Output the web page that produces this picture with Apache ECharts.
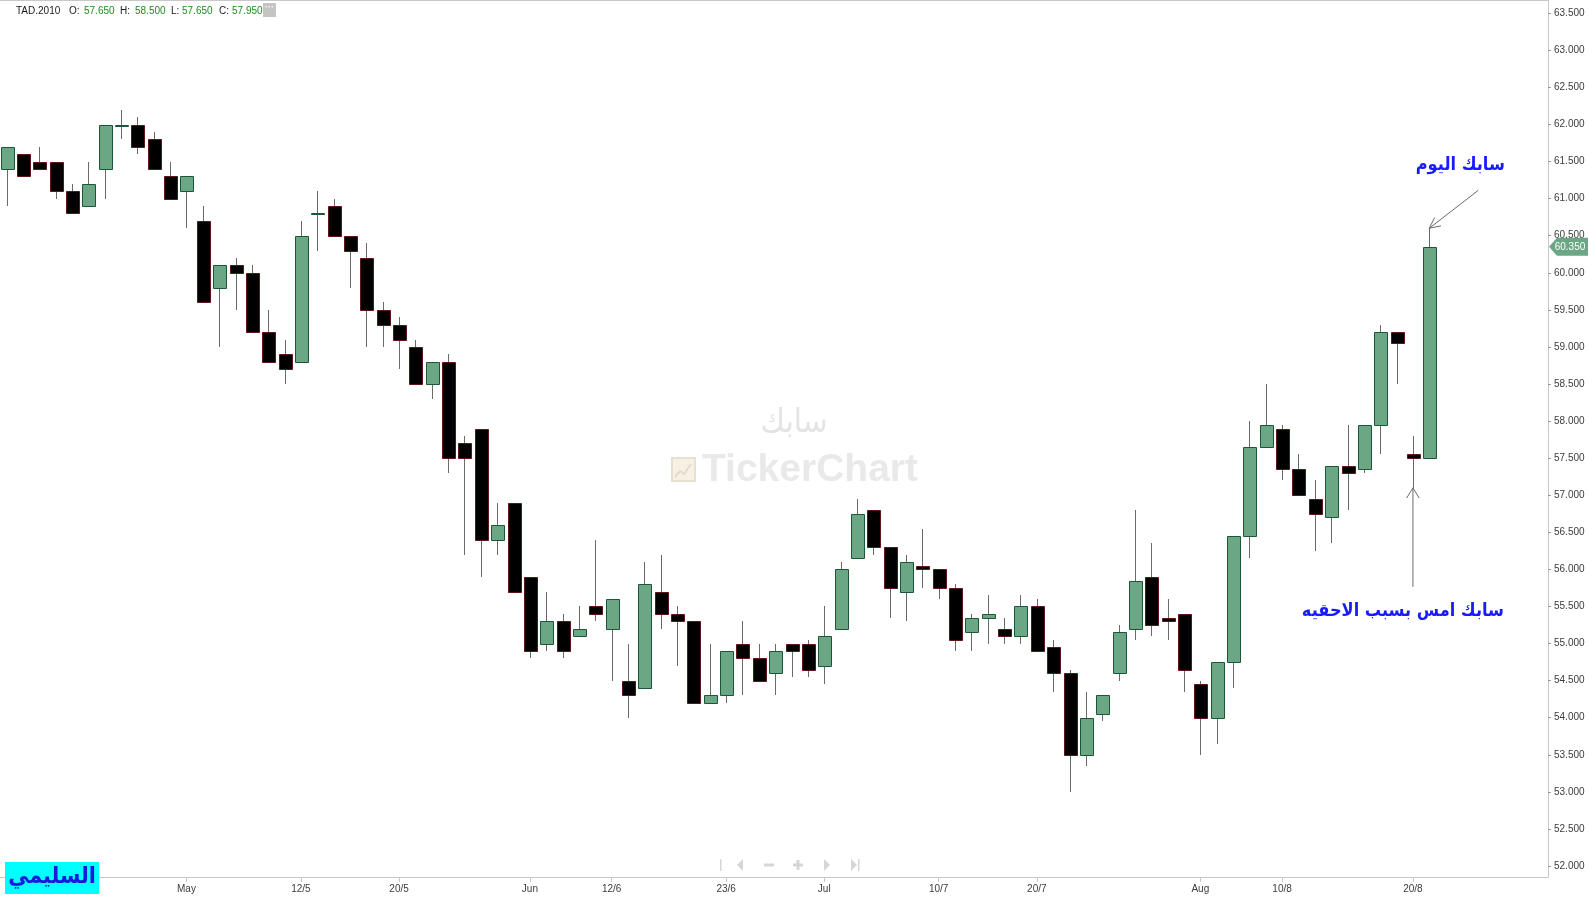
<!DOCTYPE html>
<html><head><meta charset="utf-8">
<script src="https://cdn.jsdelivr.net/npm/echarts@6/dist/echarts.min.js"></script>
<style>html,body{margin:0;padding:0;background:#fff;}#c{width:1589px;height:899px;}</style>
</head><body><div id="c"></div>
<script>
// ---------- DATA ----------
const dates = ['2025-04-16','2025-04-17','2025-04-20','2025-04-21','2025-04-22','2025-04-23','2025-04-24','2025-04-27','2025-04-28','2025-04-29','2025-04-30',
'2025-05-01','2025-05-04','2025-05-05','2025-05-06','2025-05-07','2025-05-08','2025-05-11','2025-05-12','2025-05-13','2025-05-14','2025-05-15',
'2025-05-18','2025-05-19','2025-05-20','2025-05-21','2025-05-22','2025-05-25','2025-05-26','2025-05-27','2025-05-28','2025-05-29',
'2025-06-01','2025-06-02','2025-06-03','2025-06-04','2025-06-11','2025-06-12','2025-06-15','2025-06-16','2025-06-17','2025-06-18','2025-06-19',
'2025-06-22','2025-06-23','2025-06-24','2025-06-25','2025-06-26','2025-06-29','2025-06-30',
'2025-07-01','2025-07-02','2025-07-03','2025-07-06','2025-07-07','2025-07-08','2025-07-09','2025-07-10','2025-07-13','2025-07-14','2025-07-15',
'2025-07-16','2025-07-17','2025-07-20','2025-07-21','2025-07-22','2025-07-23','2025-07-24','2025-07-27','2025-07-28','2025-07-29','2025-07-30','2025-07-31',
'2025-08-03','2025-08-04','2025-08-05','2025-08-06','2025-08-07','2025-08-10','2025-08-11','2025-08-12','2025-08-13','2025-08-14','2025-08-17',
'2025-08-18','2025-08-19','2025-08-20','2025-08-21'];
const opens = [61.40,61.60,61.50,61.50,61.10,60.90,61.40,62.00,62.00,61.80,61.30,
61.10,60.70,59.80,60.10,60.00,59.20,58.90,58.80,60.80,60.90,60.50,
60.20,59.50,59.30,59.00,58.50,58.80,57.70,57.90,56.40,56.90,
55.90,55.00,55.30,55.10,55.50,55.20,54.50,54.40,55.70,55.40,55.30,
54.20,54.30,55.00,54.80,54.60,55.00,55.00,
54.70,55.20,56.15,56.80,56.30,55.70,56.05,56.00,55.75,55.15,55.35,
55.20,55.10,55.50,54.95,54.60,53.50,54.05,54.60,55.20,55.90,55.35,55.40,
54.45,54.00,54.75,56.45,57.65,57.90,57.35,56.95,56.70,57.40,57.35,
57.95,59.20,57.55,57.50];
const closes = [61.70,61.30,61.40,61.10,60.80,61.20,62.00,62.00,61.70,61.40,61.00,
61.30,59.60,60.10,60.00,59.20,58.80,58.70,60.50,60.80,60.50,60.30,
59.50,59.30,59.10,58.50,58.80,57.50,57.50,56.40,56.60,55.70,
54.90,55.30,54.90,55.20,55.40,55.60,54.30,55.80,55.40,55.30,54.20,
54.30,54.90,54.80,54.50,54.90,54.90,54.65,
55.10,56.00,56.75,56.30,55.75,56.10,56.00,55.75,55.05,55.35,55.40,
55.10,55.50,54.90,54.60,53.50,54.00,54.30,55.15,55.85,55.25,55.30,54.65,
54.00,54.75,56.45,57.65,57.95,57.35,57.00,56.75,57.40,57.30,57.95,
59.20,59.05,57.50,60.35];
const lows = [60.90,61.30,61.40,61.00,60.80,60.90,61.00,61.80,61.60,61.40,61.00,
60.60,59.60,59.00,59.50,59.20,58.80,58.50,58.80,60.30,60.50,59.80,
59.00,59.00,58.70,58.50,58.30,57.30,56.20,55.90,56.20,55.70,
54.80,54.90,54.80,55.10,55.30,54.50,54.00,54.40,55.20,54.70,54.20,
54.20,54.20,54.30,54.50,54.30,54.55,54.55,
54.45,55.20,56.15,56.20,55.35,55.30,55.75,55.60,54.90,54.90,55.00,
55.00,55.00,54.90,54.35,53.00,53.35,53.95,54.50,55.05,55.10,55.05,54.35,
53.50,53.65,54.40,56.15,57.65,57.20,57.00,56.25,56.35,56.80,57.30,
57.55,58.50,57.10,57.50];
const highs = [61.70,61.60,61.70,61.50,61.20,61.50,62.00,62.20,62.10,61.90,61.50,
61.30,60.90,60.10,60.20,60.10,59.50,59.10,60.70,61.10,61.00,60.50,
60.40,59.60,59.40,59.10,58.80,58.90,57.80,57.90,56.90,56.90,
55.90,55.70,55.40,55.50,56.40,55.60,55.00,56.10,56.20,55.50,55.30,
55.00,54.90,55.30,55.00,55.00,55.00,55.05,
55.50,56.10,56.95,56.80,56.30,56.20,56.55,56.00,55.80,55.40,55.65,
55.35,55.65,55.60,55.05,54.65,54.35,54.30,55.25,56.80,56.35,55.60,55.40,
54.50,54.75,56.45,58.00,58.50,57.95,57.55,57.20,57.40,57.95,57.95,
59.30,59.20,57.80,60.60];
const xTickIndex = [11,18,24,32,37,44,50,57,63,73,78,86];
const xTickLabels = ['May','12/5','20/5','Jun','12/6','23/6','Jul','10/7','20/7','Aug','10/8','20/8'];
const yTicks = [52.0,52.5,53.0,53.5,54.0,54.5,55.0,55.5,56.0,56.5,57.0,57.5,58.0,58.5,59.0,59.5,60.0,60.5,61.0,61.5,62.0,62.5,63.0,63.5];
const headerSymbol = 'TAD.2010';
const headerFields = [['O:','57.650'],['H:','58.500'],['L:','57.650'],['C:','57.950']];
const lastPriceText = '60.350';
const noteToday = 'سابك اليوم';
const noteYesterday = 'سابك امس بسبب الاحقيه';
const authorTag = 'السليمي';
const watermarkTop = 'سابك';
const watermarkBrand = 'TickerChart';
const todayIndex = 87, yesterdayIndex = 86;

// ---------- CHART ----------
const chart = echarts.init(document.getElementById('c'));
const FONT = 'Liberation Sans, Arial, sans-serif';
const AR_FONT = '"DejaVu Sans Condensed", "DejaVu Sans", sans-serif';
const candleData = dates.map((d, i) => [i, opens[i], closes[i], lows[i], highs[i]]);

function renderCandle(params, api) {
  const i = api.value(0), o = api.value(1), c = api.value(2), l = api.value(3), h = api.value(4);
  const pO = api.coord([i, o]), pC = api.coord([i, c]), pL = api.coord([i, l]), pH = api.coord([i, h]);
  const x = Math.round(pO[0]);
  const up = c >= o;
  const top = Math.round(Math.min(pO[1], pC[1]));
  const bot = Math.round(Math.max(pO[1], pC[1]));
  const bh = Math.max(bot - top, 1);
  return {
    type: 'group',
    children: [
      {type: 'line', shape: {x1: x + 0.5, y1: Math.round(pH[1]), x2: x + 0.5, y2: Math.round(pL[1])},
       style: {stroke: '#6a6a6a', lineWidth: 1}},
      {type: 'rect', shape: {x: x - 6 + 0.5, y: top + 0.5, width: 13, height: bh},
       style: {fill: up ? '#6ba784' : '#000000', stroke: up ? '#1d5636' : '#5c1616', lineWidth: 1}}
    ]
  };
}

const pxPerUnit = 74.15;
const yMin = 52 - 11 / pxPerUnit;
const yMax = yMin + 877 / pxPerUnit;

chart.setOption({
  animation: false,
  backgroundColor: '#ffffff',
  grid: {left: 0, right: 41, top: 0, bottom: 22, containLabel: false},
  xAxis: {
    type: 'value', min: -0.4036, max: 94.26,
    splitLine: {show: false},
    axisLine: {show: true, onZero: false, lineStyle: {color: '#c8c8c8', width: 1}},
    axisTick: {show: true, customValues: xTickIndex, length: 5, lineStyle: {color: '#c8c8c8'}},
    axisLabel: {show: true, customValues: xTickIndex, margin: 7, color: '#3c3c3c', fontSize: 10, fontFamily: FONT,
      formatter: v => { const k = xTickIndex.indexOf(Math.round(v)); return k >= 0 ? xTickLabels[k] : ''; }}
  },
  yAxis: {
    type: 'value', position: 'right', min: yMin, max: yMax, scale: true,
    splitLine: {show: false},
    axisLine: {show: true, onZero: false, lineStyle: {color: '#c8c8c8', width: 1}},
    axisTick: {show: true, customValues: yTicks, length: 3, lineStyle: {color: '#9a9a9a'}},
    axisLabel: {show: true, customValues: yTicks, margin: 6, color: '#3c3c3c', fontSize: 10, fontFamily: FONT,
      formatter: v => v.toFixed(3)}
  },
  series: [{
    type: 'custom', renderItem: renderCandle, data: candleData, clip: true, z: 5,
    encode: {x: 0, y: [1, 2, 3, 4]}
  }]
});

// ---------- GRAPHIC OVERLAYS ----------
const P = (i, v) => chart.convertToPixel({gridIndex: 0}, [i, v]);
function arrow(tail, tip, arm, spread) {
  const ang = Math.atan2(tail[1] - tip[1], tail[0] - tip[0]);
  const a1 = ang + spread, a2 = ang - spread;
  return [
    {type: 'line', shape: {x1: tail[0], y1: tail[1], x2: tip[0], y2: tip[1]}, style: {stroke: '#6a6a6a', lineWidth: 1}, z: 50},
    {type: 'polyline', shape: {points: [[tip[0] + arm * Math.cos(a1), tip[1] + arm * Math.sin(a1)], tip, [tip[0] + arm * Math.cos(a2), tip[1] + arm * Math.sin(a2)]]},
     style: {stroke: '#6a6a6a', lineWidth: 1, fill: null}, z: 50}
  ];
}

const tipToday = P(todayIndex, highs[todayIndex]);
const tipYest = P(yesterdayIndex, lows[yesterdayIndex]);
const lastY = P(todayIndex, closes[todayIndex])[1];
const ax = 1548;

const g = [];
// frame top line
g.push({type: 'line', shape: {x1: 0, y1: 0.5, x2: ax, y2: 0.5}, style: {stroke: '#c8c8c8', lineWidth: 1}, z: 1});
// watermark
g.push({type: 'text', x: 794, y: 423, style: {text: watermarkTop, font: '33px ' + AR_FONT, fill: '#e4e4e4', align: 'center', verticalAlign: 'middle'}, z: -1});
g.push({type: 'text', x: 810, y: 470, style: {text: watermarkBrand, font: 'bold 39px ' + FONT, fill: '#e9e9e9', align: 'center', verticalAlign: 'middle'}, z: -1});
g.push({type: 'rect', shape: {x: 672, y: 458, width: 23, height: 23}, style: {fill: '#f6f1e4', stroke: '#e6e0d0', lineWidth: 2}, z: -1});
g.push({type: 'polyline', shape: {points: [[675, 477], [680, 471], [684, 474], [691, 464]]}, style: {stroke: '#e2dccc', lineWidth: 2, fill: null}, z: -1});
// header
g.push({type: 'text', x: 16, y: 11, style: {text: headerSymbol, font: '10px ' + FONT, fill: '#1a1a1a', verticalAlign: 'middle'}, z: 60});
const hx = [[69, 84], [120, 135], [171, 182], [219, 232]];
headerFields.forEach((f, k) => {
  g.push({type: 'text', x: hx[k][0], y: 11, style: {text: f[0], font: '10px ' + FONT, fill: '#1a1a1a', verticalAlign: 'middle'}, z: 60});
  g.push({type: 'text', x: hx[k][1], y: 11, style: {text: f[1], font: '10px ' + FONT, fill: '#1f8a1f', verticalAlign: 'middle'}, z: 60});
});
g.push({type: 'rect', shape: {x: 263, y: 3, width: 13, height: 14}, style: {fill: '#c4c4c4'}, z: 60});
g.push({type: 'text', x: 269.5, y: 8, style: {text: '···', font: 'bold 9px ' + FONT, fill: '#fff', align: 'center', verticalAlign: 'middle'}, z: 61});
// last price tag
g.push({type: 'polygon', shape: {points: [[ax + 1, lastY], [ax + 9, lastY - 9], [1588, lastY - 9], [1588, lastY + 9], [ax + 9, lastY + 9]]}, style: {fill: '#6ba784'}, z: 60});
g.push({type: 'text', x: 1570, y: lastY, style: {text: lastPriceText, font: '10px ' + FONT, fill: '#ffffff', align: 'center', verticalAlign: 'middle'}, z: 61});
// annotations
arrow([tipToday[0] + 49, tipToday[1] - 38], [tipToday[0], tipToday[1]], 12, 0.45).forEach(e => g.push(e));
g.push({type: 'text', x: tipToday[0] + 31, y: tipToday[1] - 63, style: {text: noteToday, font: 'bold 18px ' + AR_FONT, fill: '#1a1aff', align: 'center', verticalAlign: 'middle'}, z: 60});
arrow([tipYest[0], tipYest[1] + 99], [tipYest[0], tipYest[1]], 12, 0.55).forEach(e => g.push(e));
g.push({type: 'text', x: tipYest[0] - 10, y: tipYest[1] + 123, style: {text: noteYesterday, font: 'bold 18px ' + AR_FONT, fill: '#1a1aff', align: 'center', verticalAlign: 'middle'}, z: 60});
// navigation buttons
const nc = '#d6d6d6';
g.push({type: 'rect', shape: {x: 720, y: 859, width: 1.5, height: 12}, style: {fill: nc}, z: 60});
g.push({type: 'polygon', shape: {points: [[737, 865], [743, 859], [743, 871]]}, style: {fill: nc}, z: 60});
g.push({type: 'rect', shape: {x: 764, y: 863.5, width: 10, height: 3}, style: {fill: nc}, z: 60});
g.push({type: 'rect', shape: {x: 793, y: 863.5, width: 10, height: 3}, style: {fill: nc}, z: 60});
g.push({type: 'rect', shape: {x: 796.5, y: 860, width: 3, height: 10}, style: {fill: nc}, z: 60});
g.push({type: 'polygon', shape: {points: [[824, 859], [830, 865], [824, 871]]}, style: {fill: nc}, z: 60});
g.push({type: 'polygon', shape: {points: [[851, 859], [857, 865], [851, 871]]}, style: {fill: nc}, z: 60});
g.push({type: 'rect', shape: {x: 858, y: 859, width: 1.5, height: 12}, style: {fill: nc}, z: 60});
// author tag
g.push({type: 'rect', shape: {x: 5, y: 862, width: 94, height: 32}, style: {fill: '#00ffff'}, z: 70});
g.push({type: 'text', x: 52, y: 877, style: {text: authorTag, font: 'bold 23px ' + AR_FONT, fill: '#1a1adf', align: 'center', verticalAlign: 'middle'}, z: 71});

chart.setOption({graphic: {elements: g}});
</script>
</body></html>
